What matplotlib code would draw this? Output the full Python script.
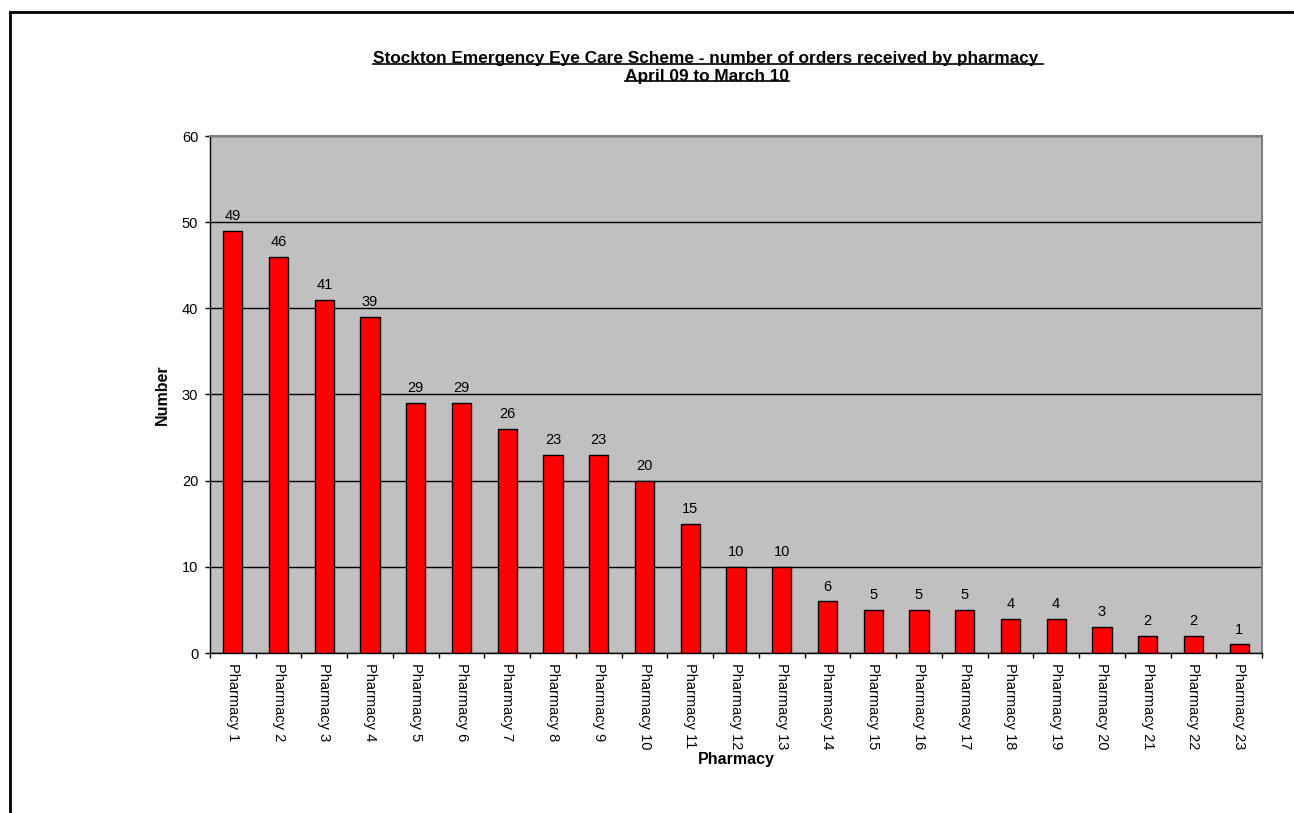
import matplotlib
matplotlib.use("Agg")
import matplotlib.pyplot as plt
from matplotlib.lines import Line2D
import numpy as np

plt.rcParams['font.family'] = ['Liberation Sans', 'DejaVu Sans']

# data
pharmacies = ["Pharmacy %d" % i for i in range(1, 24)]
orders = [49, 46, 41, 39, 29, 29, 26, 23, 23, 20, 15, 10, 10, 6, 5, 5, 5, 4, 4, 3, 2, 2, 1]
title_1 = "Stockton Emergency Eye Care Scheme - number of orders received by pharmacy "
title_2 = "April 09 to March 10"

W, H = 1294, 813
fig = plt.figure(figsize=(W / 100, H / 100), dpi=100)
fig.patch.set_facecolor('white')

# plot area in pixels: left 210, right 1262, top 136, bottom 653
ax = fig.add_axes([210 / W, 1 - 653 / H, (1262 - 210) / W, (653 - 136) / H])
ax.set_facecolor('#C0C0C0')

x = np.arange(len(orders))
ax.bar(x, orders, width=0.42, color='#FF0000', edgecolor='black', linewidth=1.0, zorder=3)
for xi, v in zip(x, orders):
    ax.text(xi, v + 0.9, str(v), ha='center', va='bottom', fontsize=10.5, zorder=4)

ax.set_xlim(-0.5, len(orders) - 0.5)
ax.set_ylim(0, 60)
ax.set_yticks(range(0, 61, 10))
ax.yaxis.grid(True, color='black', linewidth=1.0, zorder=1)
ax.set_axisbelow(True)

ax.set_xticks(x)
ax.set_xticklabels(pharmacies, rotation=270, fontsize=10.5, va='top', ha='center')
ax.set_xticks(np.arange(-0.5, len(orders), 1), minor=True)
ax.tick_params(axis='x', which='major', length=0, pad=7)
ax.tick_params(axis='x', which='minor', length=3.5, width=1, direction='out')
ax.tick_params(axis='y', length=3.5, width=1, direction='out', labelsize=10.5, pad=5)

for s in ['top', 'right']:
    ax.spines[s].set_color('#808080')
    ax.spines[s].set_linewidth(1.5)
for s in ['left', 'bottom']:
    ax.spines[s].set_color('black')
    ax.spines[s].set_linewidth(1.0)

fig.text(162 / W, 1 - 395 / H, 'Number', rotation=90, ha='center', va='center',
         fontsize=11.5, fontweight='bold')
fig.text(736 / W, 1 - 759 / H, 'Pharmacy', ha='center', va='center',
         fontsize=11.5, fontweight='bold')

# title with underline
t1 = fig.text(708 / W, 1 - 59 / H, title_1, ha='center', va='center', fontsize=12.4, fontweight='bold')
t2 = fig.text(707 / W, 1 - 76 / H, title_2, ha='center', va='center', fontsize=12.4, fontweight='bold')
fig.canvas.draw()
r = fig.canvas.get_renderer()
for t in (t1, t2):
    bb = t.get_window_extent(r)
    yline = bb.y0 + 2.5
    fig.add_artist(Line2D([bb.x0 / W, bb.x1 / W], [yline / H, yline / H], color='black', linewidth=1.2))

# outer frame (cut off on right and bottom)
fig.add_artist(Line2D([10 / W, 1.0], [1 - 12 / H, 1 - 12 / H], color='black', linewidth=2))
fig.add_artist(Line2D([10 / W, 10 / W], [1 - 12 / H, 0], color='black', linewidth=2))

fig.savefig('out.png', dpi=100)
